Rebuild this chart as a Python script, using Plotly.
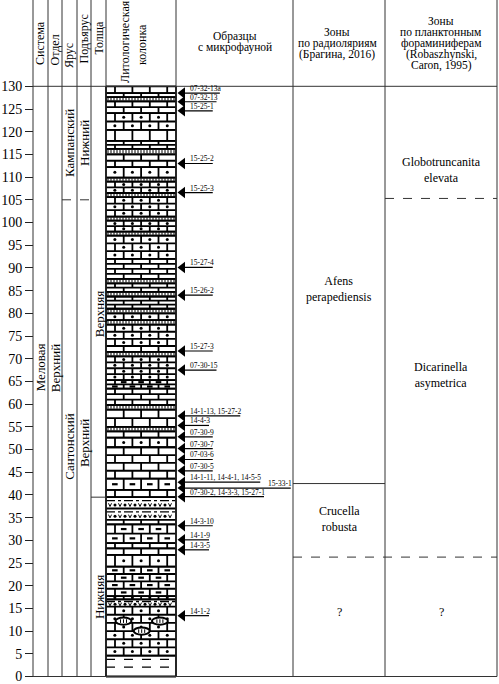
import plotly.graph_objects as go

# depth scale of the section, m
depth_ticks = list(range(0, 131, 5))

# lithological column, layers from the top down
# L - limestone, D - sandy limestone (dots), S - siliceous limestone (dashes),
# T - marly interbed, V - tuffaceous bed, C - clay
layer_top = [130.0, 128.5, 127.6, 126.7, 124.1, 120.4, 118.0, 116.2, 115.0, 112.2,
             109.9, 109.0, 106.5, 105.6, 101.3, 100.4, 98.0, 97.1, 92.0, 87.6,
             86.6, 84.7, 83.7, 81.0, 80.0, 78.5, 77.5, 72.8, 71.5, 70.5,
             65.3, 63.4, 59.8, 58.8, 55.0, 54.0, 52.6, 50.5, 43.6, 41.1,
             39.5, 37.0, 34.5, 33.5, 29.4, 28.2, 26.8, 24.2, 17.7, 17.0,
             15.4, 4.6]
layer_bottom = layer_top[1:] + [0.0]
layer_kind = ["L", "L", "T", "L", "D", "L", "L", "T", "L", "D",
              "T", "D", "T", "D", "T", "D", "T", "D", "L", "T",
              "L", "T", "L", "T", "D", "T", "D", "L", "T", "D",
              "S", "L", "T", "L", "T", "L", "D", "L", "S", "L",
              "V", "V", "L", "S", "L", "L", "D", "S", "D", "V",
              "D", "C"]
layer_rows = [1, 1, 0, 2, 2, 1, 2, 0, 2, 1,
              0, 2, 0, 3, 0, 2, 0, 3, 4, 0,
              2, 0, 3, 0, 1, 0, 3, 1, 0, 4,
              2, 3, 0, 2, 0, 1, 1, 4, 1, 1,
              0, 0, 1, 2, 1, 1, 1, 4, 1, 0,
              6, 0]

# concretions: depth of centre and place across the column
nodule_depth = [12.2, 12.2, 10.0]
nodule_place = [0.25, 0.77, 0.51]

# samples with microfauna
sample_labels = ["07-32-13а", "07-32-13", "15-25-1", "15-25-2", "15-25-3",
                 "15-27-4", "15-26-2", "15-27-3", "07-30-15", "14-1-13, 15-27-2",
                 "14-4-3", "07-30-9", "07-30-7", "07-03-6", "07-30-5",
                 "14-1-11, 14-4-1, 14-5-5", "15-33-1", "07-30-2, 14-3-3, 15-27-1",
                 "14-3-10", "14-1-9", "14-3-5", "14-1-2"]
sample_depth = [128.5, 126.6, 124.6, 113.0, 106.6,
                90.1, 84.0, 71.7, 67.5, 57.4,
                55.3, 52.8, 50.2, 47.8, 45.3,
                42.8, 41.5, 39.6,
                33.2, 30.1, 27.9, 13.4]

# stratigraphic units
system_name, system_depth = "Меловая", 68.0
series_name, series_depth = "Верхний", 67.8
stage_names = ["Кампанский", "Сантонский"]
stage_depth = [117.4, 50.5]
substage_names = ["Нижний", "Верхний"]
substage_depth = [117.4, 51.3]
stage_boundary = 105.0
unit_names = ["Верхняя", "Нижняя"]
unit_depth = [79.8, 17.5]
unit_boundary = 39.5

# zones
rad_zones = ["Afens<br>perapediensis", "Crucella<br>robusta", "?"]
rad_zone_depth = [85.4, 34.7, 14.2]
rad_bounds = [42.5, 26.3]
foram_zones = ["Globotruncanita<br>elevata", "Dicarinella<br>asymetrica", "?"]
foram_zone_depth = [111.6, 66.4, 14.2]
foram_bounds = [105.3, 26.3]

SERIF = "Liberation Serif"
YTOP, YBOT = 149.01, -1.652
X0, X1 = 106.0, 176.0   # lithology column
BW = 17.4               # brick length
cols = [33, 48, 62, 77, 91, 106, 176, 293, 385, 497]


def hy(p):
    """pixel row of the header -> depth units"""
    return YTOP - p * (YTOP - YBOT) / 684


def seg(acc, xa, ya, xb, yb):
    acc[0].extend([xa, xb, None])
    acc[1].extend([ya, yb, None])


def text_px(s, size):
    cw = {"-": 0.333, ",": 0.25, " ": 0.25, "а": 0.444}
    return sum(cw.get(c, 0.5) for c in s) * size


thick, thin, dashes, dashdot, clay = ([], []), ([], []), ([], []), ([], []), ([], [])
dots = ([], [])

row = 0
for top, bot, kind, n in zip(layer_top, layer_bottom, layer_kind, layer_rows):
    seg(thick, X0, top, X1, top)
    h = top - bot
    if kind in "LDS":
        rh = h / n
        for r in range(n):
            yt = top - r * rh
            yb = yt - rh
            seg(thick, X0, yb, X1, yb)
            x = X0 + 9.0 if row % 2 == 0 else X0 + 17.7
            joints = []
            while x < X1 - 3:
                joints.append(x)
                x += BW
            for jx in joints:
                seg(thick, jx, yb, jx, yt)
            edges = [X0] + joints + [X1]
            for a, b in zip(edges[:-1], edges[1:]):
                if b - a > 14:
                    cx, cy = (a + b) / 2, (yt + yb) / 2
                    if kind == "D":
                        dots[0].append(cx)
                        dots[1].append(cy)
                    elif kind == "S":
                        seg(dashes, cx - 2.8, cy, cx + 2.8, cy)
            row += 1
    elif kind == "T":
        seg(thick, X0, bot, X1, bot)
        x = X0 + 2
        while x < X1 - 1:
            seg(thin, x, bot + 0.2 * h, x, top - 0.2 * h)
            x += 3.0
    elif kind == "V":
        yl = top - 0.3 * h
        seg(dashdot, X0, yl, X1, yl)
        ym = top - 0.68 * h
        x, i = X0 + 4, 0
        while x < X1 - 2:
            if i % 2 == 0:
                thin[0].extend([x - 1.5, x, x + 1.5, None])
                thin[1].extend([ym + 0.35, ym - 0.35, ym + 0.35, None])
            else:
                dots[0].append(x)
                dots[1].append(ym)
            x += 5.0
            i += 1
    elif kind == "C":
        for f in (0.82, 0.45):
            seg(clay, X0, bot + f * h, X1, bot + f * h)

seg(thick, X0, 0, X1, 0)
seg(thick, X0, 0, X0, 130)
seg(thick, X1, 0, X1, 130)

fig = go.Figure()
fig.add_trace(go.Scatter(x=thick[0], y=thick[1], mode="lines",
                         line=dict(color="black", width=1.8), hoverinfo="skip"))
fig.add_trace(go.Scatter(x=thin[0], y=thin[1], mode="lines",
                         line=dict(color="black", width=1), hoverinfo="skip"))
fig.add_trace(go.Scatter(x=dashes[0], y=dashes[1], mode="lines",
                         line=dict(color="black", width=2.2), hoverinfo="skip"))
fig.add_trace(go.Scatter(x=dashdot[0], y=dashdot[1], mode="lines",
                         line=dict(color="black", width=1.3, dash="dashdot"), hoverinfo="skip"))
fig.add_trace(go.Scatter(x=clay[0], y=clay[1], mode="lines",
                         line=dict(color="black", width=1.2, dash="dash"), hoverinfo="skip"))
fig.add_trace(go.Scatter(x=dots[0], y=dots[1], mode="markers",
                         marker=dict(color="black", size=3), hoverinfo="skip"))

# concretions
for d, pl in zip(nodule_depth, nodule_place):
    cx = X0 + pl * (X1 - X0)
    fig.add_shape(type="circle", xref="x", yref="y", x0=cx - 8, x1=cx + 8, y0=d - 0.8, y1=d + 0.8,
                  fillcolor="white", line=dict(color="black", width=2))
    for dx in (-3, 0, 3):
        fig.add_shape(type="line", xref="x", yref="y", x0=cx + dx, x1=cx + dx, y0=d - 0.4, y1=d + 0.4,
                      line=dict(color="black", width=1))

# samples: arrows with underlined numbers
sx, sy = [], []
special_x = {"15-33-1": 266}
for lab, d in zip(sample_labels, sample_depth):
    tx = special_x.get(lab, 188)
    end = tx + text_px(lab, 7.5) + 1
    sx.extend([180, end, None])
    sy.extend([d, d, None])
    fig.add_annotation(x=tx, y=d, text=lab, showarrow=False, xanchor="left", yanchor="bottom",
                       yshift=-2, font=dict(family=SERIF, size=7.5, color="black"))
fig.add_trace(go.Scatter(x=sx, y=sy, mode="lines", line=dict(color="black", width=1.2),
                         hoverinfo="skip"))
fig.add_trace(go.Scatter(x=[182.5] * len(sample_depth), y=sample_depth, mode="markers",
                         marker=dict(symbol="triangle-left", size=10, color="black"),
                         hoverinfo="skip"))

# table frame
line_col = "#333333"
for cx in cols:
    fig.add_shape(type="line", xref="x", yref="y", x0=cx, x1=cx, y0=0, y1=YTOP,
                  line=dict(color=line_col, width=1))
for d in (0, 130):
    fig.add_shape(type="line", xref="x", yref="y", x0=33, x1=497, y0=d, y1=d,
                  line=dict(color=line_col, width=1))
fig.add_shape(type="line", xref="x", yref="y", x0=62, x1=91, y0=stage_boundary, y1=stage_boundary,
              line=dict(color=line_col, width=1, dash="dash"))
fig.add_shape(type="line", xref="x", yref="y", x0=91, x1=106, y0=unit_boundary, y1=unit_boundary,
              line=dict(color=line_col, width=1))
fig.add_shape(type="line", xref="x", yref="y", x0=293, x1=385, y0=rad_bounds[0], y1=rad_bounds[0],
              line=dict(color=line_col, width=1))
fig.add_shape(type="line", xref="x", yref="y", x0=293, x1=497, y0=rad_bounds[1], y1=rad_bounds[1],
              line=dict(color=line_col, width=1, dash="dash"))
fig.add_shape(type="line", xref="x", yref="y", x0=385, x1=497, y0=foram_bounds[0], y1=foram_bounds[0],
              line=dict(color=line_col, width=1, dash="dash"))


def vtext(x, y, s, size=13):
    fig.add_annotation(x=x, y=y, text=s, textangle=-90, showarrow=False,
                       font=dict(family=SERIF, size=size, color="black"))


def htext(x, y, s, size=11.5):
    fig.add_annotation(x=x, y=y, text=s, showarrow=False,
                       font=dict(family=SERIF, size=size, color="black"))


# header
vtext(40, hy(43), "Система", 12)
vtext(54.5, hy(50), "Отдел", 12)
vtext(69, hy(56), "Ярус", 12)
vtext(83.5, hy(39), "Подъярус", 12)
vtext(98.5, hy(38), "Толща", 12)
vtext(125, hy(42), "Литологическая", 12)
vtext(142, hy(45), "колонка", 12)
for s, p in zip(["Образцы", "с микрофауной"], [36, 47]):
    htext(235, hy(p), s)
for s, p in zip(["Зоны", "по радиоляриям", "(Брагина, 2016)"], [32, 43, 54]):
    htext(337, hy(p), s)
for s, p in zip(["Зоны", "по планктонным", "фораминиферам", "(Robaszhynski,", "Caron, 1995)"],
                [21, 32, 43, 54, 65]):
    htext(441, hy(p), s)

# stratigraphic labels
vtext(40.5, system_depth, system_name)
vtext(55.5, series_depth, series_name)
for s, d in zip(stage_names, stage_depth):
    vtext(69.5, d, s)
for s, d in zip(substage_names, substage_depth):
    vtext(84.5, d, s)
for s, d in zip(unit_names, unit_depth):
    vtext(99, d, s)

for s, d in zip(rad_zones, rad_zone_depth):
    htext(339, d, s, 12)
for s, d in zip(foram_zones, foram_zone_depth):
    htext(441, d, s, 12)

fig.update_xaxes(range=[0, 499], visible=False, fixedrange=True)
fig.update_yaxes(range=[YBOT, YTOP], tickvals=depth_ticks, ticks="outside", ticklen=8,
                 tickwidth=1, tickcolor="#222222", showgrid=False, zeroline=False,
                 showline=False, anchor="free", position=33 / 499, fixedrange=True,
                 ticklabeloverflow="allow",
                 tickfont=dict(family=SERIF, size=14, color="black"))
fig.update_layout(width=499, height=684, margin=dict(l=0, r=0, t=0, b=0),
                  plot_bgcolor="white", paper_bgcolor="white", showlegend=False)
# the page's default body margin would push the figure 8 px off
fig.write_html("out.html", config={"displayModeBar": False},
               post_script="document.body.style.margin='0';")
